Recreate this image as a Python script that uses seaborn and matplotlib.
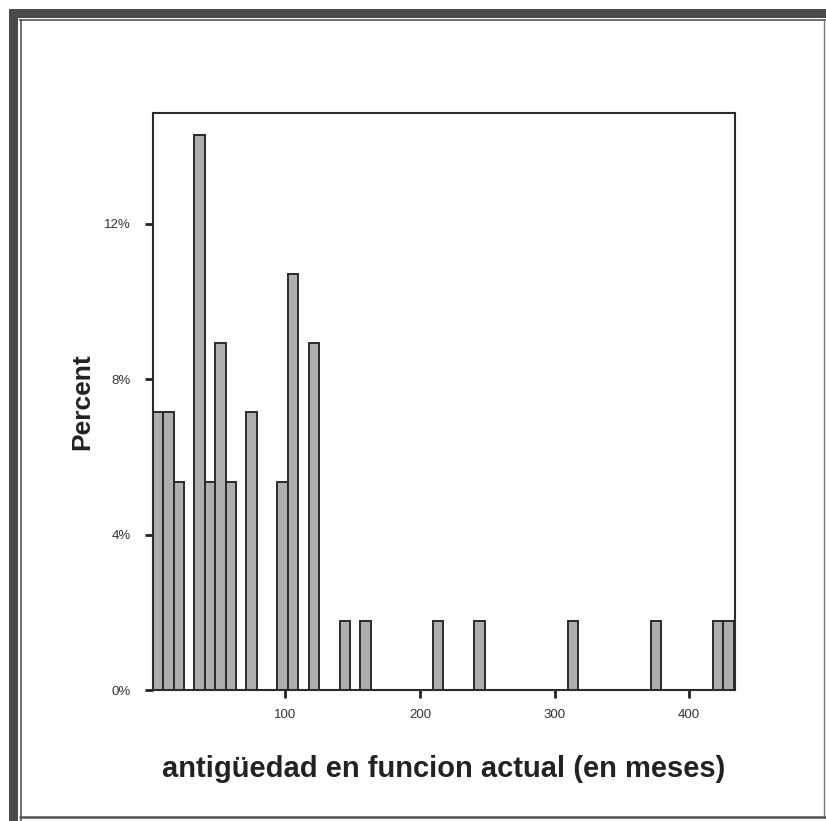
import numpy as np
import pandas as pd
import seaborn as sns
import matplotlib
matplotlib.use("Agg")
import matplotlib.pyplot as plt
from matplotlib.lines import Line2D
from matplotlib.ticker import PercentFormatter

# Histogram bins (months) and the number of cases in each bin
bin_start = 1.8
bin_width = 7.7
n_bins = 56
bin_counts = [4, 4, 3, 0, 8, 3, 5, 3, 0, 4,
              0, 0, 3, 6, 0, 5, 0, 0, 1, 0,
              1, 0, 0, 0, 0, 0, 0, 1, 0, 0,
              0, 1, 0, 0, 0, 0, 0, 0, 0, 0,
              1, 0, 0, 0, 0, 0, 0, 0, 1, 0,
              0, 0, 0, 0, 1, 1]
y_ticks = [0, 4, 8, 12]
x_ticks = [100, 200, 300, 400]
x_label = "antigüedad en funcion actual (en meses)"
y_label = "Percent"

bin_end = bin_start + bin_width * n_bins
centers = bin_start + bin_width * (np.arange(n_bins) + 0.5)
df = pd.DataFrame({"meses": centers, "casos": bin_counts})

sns.set_theme(style="ticks")
plt.rcParams["font.family"] = ["Liberation Sans", "DejaVu Sans"]

W, H = 826, 821
fig = plt.figure(figsize=(W / 100, H / 100), dpi=100)
fig.patch.set_facecolor("white")
ax = fig.add_axes([153 / W, 1 - 690 / H, (735 - 153) / W, (690 - 113) / H])

sns.histplot(data=df, x="meses", weights="casos", binwidth=bin_width,
             binrange=(bin_start, bin_end), stat="percent",
             color="#aeaeae", edgecolor="#2b2b2b", linewidth=1.4, alpha=1,
             ax=ax)

ax.set_xlim(1.8, 434)
ax.set_ylim(0, 14.85)
ax.set_xticks(x_ticks)
ax.set_yticks(y_ticks)
ax.yaxis.set_major_formatter(PercentFormatter(decimals=0))
ax.tick_params(axis="both", length=6, width=2, color="#222222",
               labelsize=9.5, labelcolor="#333333")
ax.tick_params(axis="y", pad=10)
ax.tick_params(axis="x", pad=8)
for s in ax.spines.values():
    s.set_visible(True)
    s.set_linewidth(1.5)
    s.set_color("#2b2b2b")

ax.set_xlabel(x_label, fontsize=21, fontweight="bold", color="#222222",
              labelpad=24)
ax.set_ylabel(y_label, fontsize=19, fontweight="bold", color="#222222",
              labelpad=7)

# Window-style frame around the chart
def fline(x0, y0, x1, y1, lw, color):
    fig.add_artist(Line2D([x0 / W, x1 / W], [1 - y0 / H, 1 - y1 / H],
                          transform=fig.transFigure, lw=lw, color=color,
                          solid_capstyle="butt"))

fline(13, 9, 13, H, 6.5, "#4a4a4a")
fline(9, 13, W, 13, 6.5, "#4a4a4a")
fline(21, 19, 21, H, 1.2, "#555555")
fline(19, 20, W, 20, 1.2, "#555555")
fline(824, 19, 824, 818, 1.0, "#777777")
fline(19, 817, W, 817, 1.8, "#555555")

fig.savefig("out.png", dpi=100, facecolor="white")
